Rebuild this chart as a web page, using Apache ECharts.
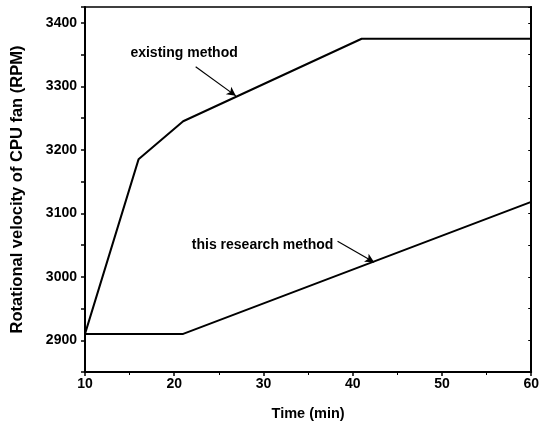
<!DOCTYPE html>
<html>
<head>
<meta charset="utf-8">
<script src="https://cdn.jsdelivr.net/npm/echarts@6/dist/echarts.min.js"></script>
<style>
  html, body { margin: 0; padding: 0; background: #fff; }
  #chart { width: 542px; height: 430px; }
</style>
</head>
<body>
<div id="chart"></div>
<script>
// values
const existingMethod = [[10, 2910], [16, 3185], [21, 3245], [41, 3375], [60, 3375]]
const researchMethod = [[10, 2910], [21, 2910], [60, 3118]]
const yTickLabels = [2900, 3000, 3100, 3200, 3300, 3400]

// annotation anchors (data units)
const existingLabel = { text: 'existing method', at: [21.1, 3353], arrow: [[22.4, 3331], [26.9, 3285]] }
const researchLabel = { text: 'this research method', at: [29.9, 3050], arrow: [[38.3, 3056], [42.4, 3023]] }

const font = 'Liberation Sans, Arial, sans-serif'
const chart = echarts.init(document.getElementById('chart'), null, { renderer: 'canvas' })

function annotation(a) {
  return {
    markLine: {
      silent: true,
      symbol: ['none', 'arrow'],
      symbolSize: [7, 9],
      label: { show: false },
      lineStyle: { color: '#000', width: 1.2, type: 'solid' },
      data: [[{ coord: a.arrow[0] }, { coord: a.arrow[1] }]]
    },
    markPoint: {
      silent: true,
      symbol: 'rect',
      symbolSize: 1,
      itemStyle: { color: 'transparent' },
      label: {
        show: true, position: 'inside', formatter: a.text,
        color: '#000', fontFamily: font, fontSize: 14, fontWeight: 'bold'
      },
      data: [{ coord: a.at }]
    }
  }
}

chart.setOption({
  animation: false,
  backgroundColor: '#fff',
  grid: { left: 85, right: 6, top: 7, bottom: 58, show: true, borderColor: '#000', borderWidth: 1.5 },
  xAxis: {
    type: 'value', min: 10, max: 60, interval: 10,
    name: 'Time (min)', nameLocation: 'middle', nameGap: 34,
    nameTextStyle: { color: '#000', fontFamily: font, fontSize: 14.5, fontWeight: 'bold' },
    axisLine: { onZero: false, lineStyle: { color: '#000', width: 2 } },
    axisTick: { inside: false, length: 4, lineStyle: { color: '#000', width: 1.5 } },
    minorTick: { show: true, splitNumber: 2, length: 3, lineStyle: { color: '#000' } },
    axisLabel: { color: '#000', fontFamily: font, fontSize: 14, fontWeight: 'bold', margin: 5 },
    splitLine: { show: false }
  },
  yAxis: [{
    type: 'value', min: 2850, max: 3425, interval: 50,
    name: 'Rotational velocity of CPU fan (RPM)', nameLocation: 'middle', nameGap: 59,
    nameTextStyle: { color: '#000', fontFamily: font, fontSize: 16.5, fontWeight: 'bold' },
    axisLine: { show: true, onZero: false, lineStyle: { color: '#000', width: 2 } },
    axisTick: { inside: false, length: 4, lineStyle: { color: '#000', width: 1.5 } },
    axisLabel: {
      color: '#000', fontFamily: font, fontSize: 14, fontWeight: 'bold', margin: 8,
      formatter: v => yTickLabels.includes(v) ? String(v) : ''
    },
    splitLine: { show: false }
  }, {
    type: 'value', min: 2850, max: 3425, interval: 50, position: 'right',
    axisLine: { show: true, onZero: false, lineStyle: { color: '#000', width: 2 } },
    axisTick: { show: true, inside: true, length: 3, lineStyle: { color: '#000' } },
    axisLabel: { show: false },
    splitLine: { show: false }
  }],
  series: [Object.assign({
    name: 'existing method', type: 'line', data: existingMethod,
    symbol: 'none', lineStyle: { color: '#000', width: 2 }
  }, annotation(existingLabel)), Object.assign({
    name: 'this research method', type: 'line', data: researchMethod,
    symbol: 'none', lineStyle: { color: '#000', width: 2 }
  }, annotation(researchLabel))]
})
</script>
</body>
</html>
